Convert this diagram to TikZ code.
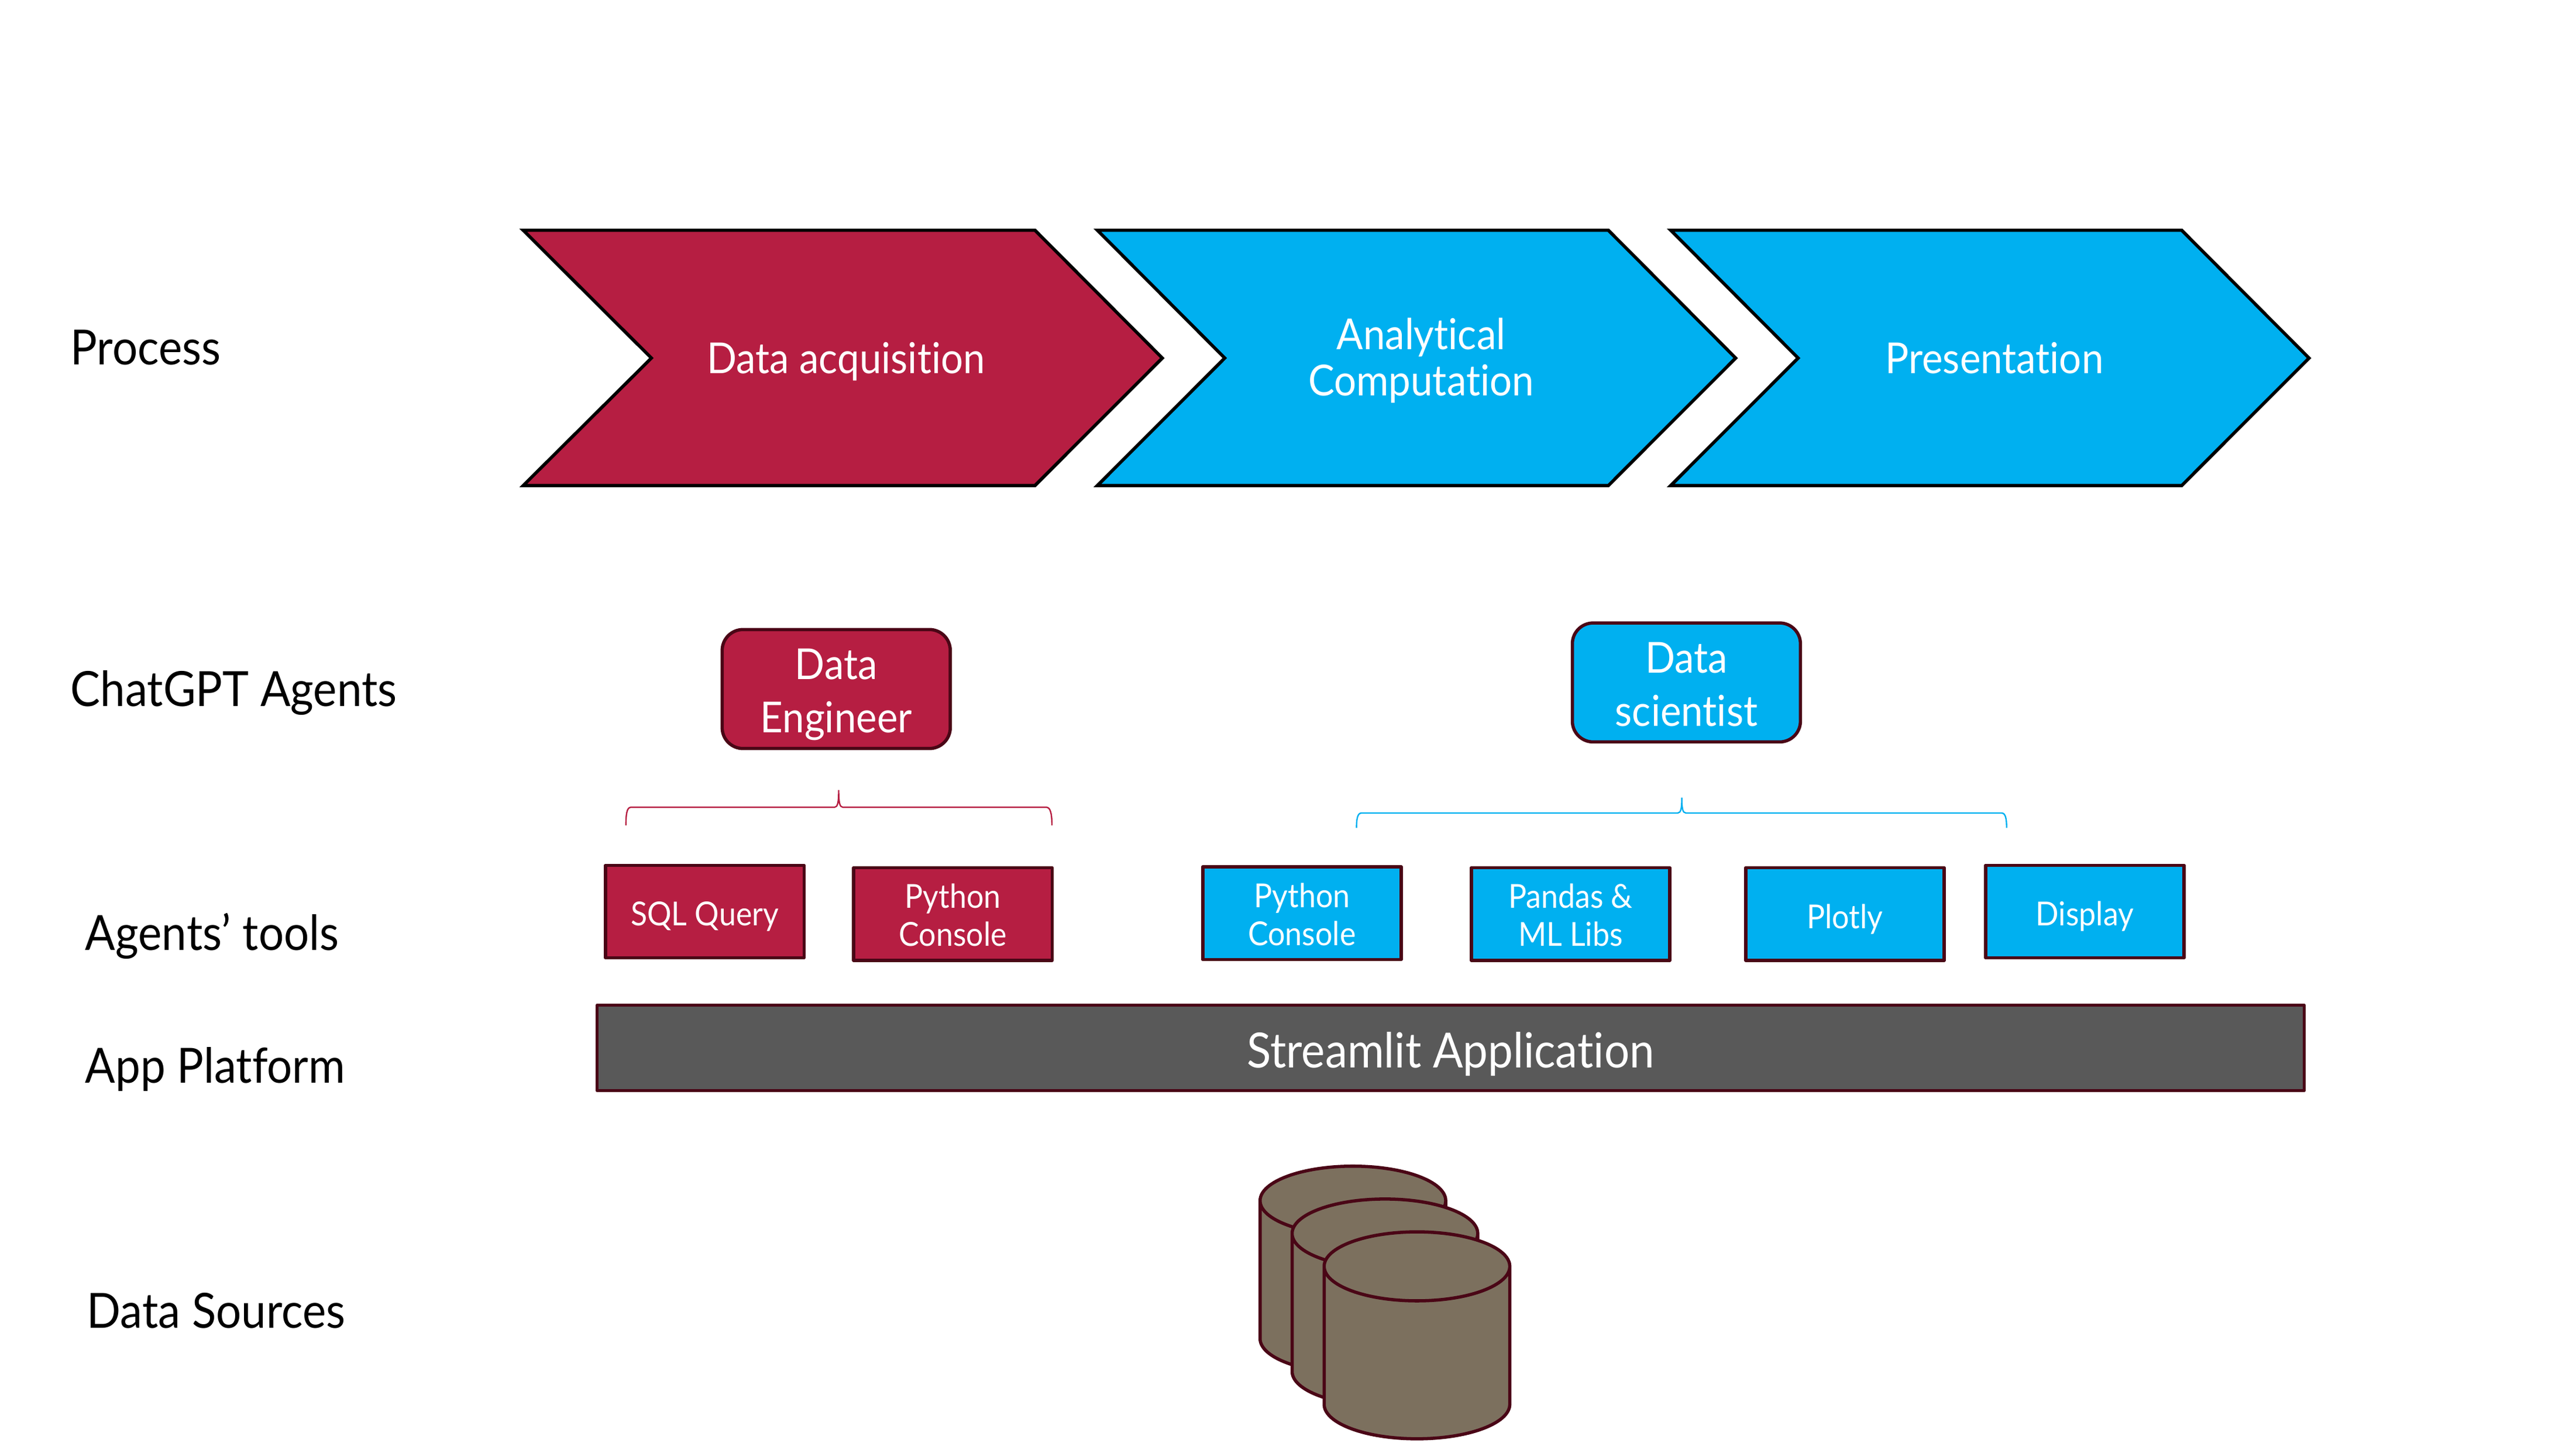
\documentclass[tikz,border=0pt]{standalone}
\usepackage{fontspec}
\setmainfont[FakeStretch=0.92,Ligatures={NoCommon}]{Lato}
\definecolor{crimson}{HTML}{B61E42}
\definecolor{skyblue}{HTML}{00B0F0}
\definecolor{edgewine}{HTML}{4A0616}
\definecolor{slate}{HTML}{595959}
\definecolor{taupe}{HTML}{7C705E}
\tikzset{
    x=0.025cm, y=-0.025cm,
    nudge/.style={execute at begin node={\rule{0pt}{#1}}},
    rowlabel/.style={anchor=west, font=\fontsize{21}{25}\selectfont},
    chevron/.style={draw=black, line width=1.4pt},
    chevrontext/.style={text=white, align=center, font=\fontsize{18.5}{20}\selectfont},
    agentbox/.style={draw=edgewine, line width=1.4pt, rounded corners=9pt, minimum width=3.47cm, minimum height=1.81cm, text=white, align=center, font=\fontsize{18.5}{23}\selectfont},
    toolbox/.style={draw=edgewine, line width=1.4pt, line join=round, minimum width=3.02cm, minimum height=1.41cm, text=white, align=center, inner sep=0pt, font=\fontsize{14.3}{16.5}\selectfont},
    bracket/.style={line width=0.6pt},
    drum/.style={draw=edgewine, line width=1.4pt, fill=taupe}
}
\begin{document}
\begin{tikzpicture}
    \useasboundingbox (0, 0) rectangle (1568, 882.8);

    %%row labels
    \node[rowlabel] (process) at(38, 211.5){Process};
    \node[rowlabel] (agents) at(38, 422){ChatGPT Agents};
    \node[rowlabel] (tools) at(47, 570){Agents’ tools};
    \node[rowlabel] (platform) at(47, 651){App Platform};
    \node[rowlabel] (sources) at(48, 798){Data Sources};

    %%draw the chevrons
    \draw[chevron, fill=crimson] (318.5, 140.2) -- (630, 140.2) -- (707.5, 218) -- (630, 295.6) -- (318.5, 295.6) -- (396.5, 218) -- cycle;
        \node[chevrontext] (acquisition) at(515, 220){Data acquisition};
    \draw[chevron, fill=skyblue] (668, 140.2) -- (979, 140.2) -- (1056.5, 218) -- (979, 295.6) -- (668, 295.6) -- (745.5, 218) -- cycle;
        \node[chevrontext] (computation) at(865, 219.5){Analytical\\Computation};
    \draw[chevron, fill=skyblue] (1017, 140.2) -- (1328, 140.2) -- (1405.5, 218) -- (1328, 295.6) -- (1017, 295.6) -- (1094.5, 218) -- cycle;
        \node[chevrontext] (presentation) at(1214, 218){Presentation};

    %%draw the agents
    \node[agentbox, fill=crimson, text height=41pt] (engineer) at(509, 419.5){Data\\Engineer};
    \node[agentbox, fill=skyblue, text height=38pt] (scientist) at(1026.5, 415.5){Data\\scientist};

    %%draw the braces
    \draw[bracket, crimson] (381, 502.5) .. controls (381, 496) and (381.5, 491.5) .. (384, 491.5) -- (508, 491.5) .. controls (510, 491.5) and (510.5, 488) .. (510.5, 481) .. controls (510.5, 488) and (511, 491.5) .. (513, 491.5) -- (637, 491.5) .. controls (639.5, 491.5) and (640.3, 496) .. (640.3, 502.5);
    \draw[bracket, skyblue] (825.7, 504) .. controls (825.7, 499) and (826.2, 495) .. (828.7, 495) -- (1021.2, 495) .. controls (1023.2, 495) and (1023.7, 492) .. (1023.7, 485.6) .. controls (1023.7, 492) and (1024.2, 495) .. (1026.2, 495) -- (1218.4, 495) .. controls (1220.9, 495) and (1221.4, 499) .. (1221.4, 504);

    %%draw the tools
    \node[toolbox, fill=crimson, nudge=14.4pt] (sql) at(429, 555){SQL Query};
    \node[toolbox, fill=crimson, text height=28pt] (console) at(580, 556.5){Python\\Console};
    \node[toolbox, fill=skyblue, text height=28pt] (pyconsole) at(792.5, 556){Python\\Console};
    \node[toolbox, fill=skyblue, text height=28pt] (pandas) at(956, 556.5){Pandas \&\\ML Libs};
    \node[toolbox, fill=skyblue, nudge=14.8pt] (plotly) at(1123, 556.5){Plotly};
    \node[toolbox, fill=skyblue, nudge=14.8pt] (display) at(1269, 555){Display};

    %%draw the platform
    \node[draw=edgewine, line width=1.4pt, line join=round, fill=slate, text=white, minimum width=25.97cm, minimum height=1.3cm, font=\fontsize{21}{25}\selectfont, nudge=21pt] (streamlit) at(883, 638){Streamlit Application};

    %%draw the data stores
    \draw[drum] (767, 731) -- (767, 815) arc[start angle=180, end angle=360, x radius=56.5, y radius=-21] -- (880, 731) arc[start angle=0, end angle=360, x radius=56.5, y radius=-21];
    \draw[drum] (786.5, 751) -- (786.5, 835) arc[start angle=180, end angle=360, x radius=56.5, y radius=-21] -- (899.5, 751) arc[start angle=0, end angle=360, x radius=56.5, y radius=-21];
    \draw[drum] (806, 771) -- (806, 855) arc[start angle=180, end angle=360, x radius=56.5, y radius=-21] -- (919, 771) arc[start angle=0, end angle=360, x radius=56.5, y radius=-21];
\end{tikzpicture}
\end{document}
